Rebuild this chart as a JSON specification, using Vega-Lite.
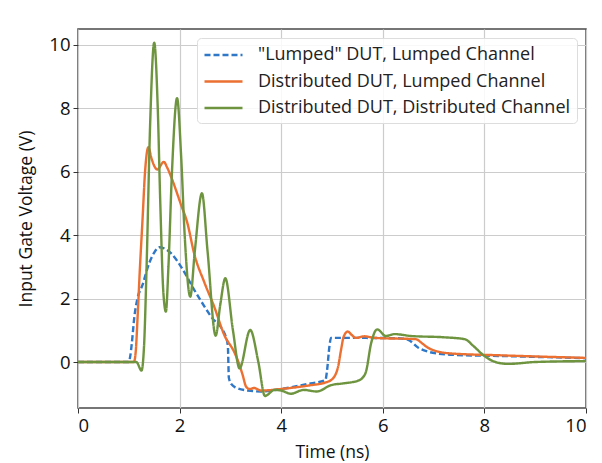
{
  "$schema": "https://vega.github.io/schema/vega-lite/v6.json",
  "width": 508,
  "height": 379,
  "padding": {"left": 17, "top": 29, "right": 5, "bottom": 5},
  "background": "white",
  "config": {
    "font": "Open Sans",
    "view": {"stroke": "#4a4a4a", "strokeWidth": 1.5},
    "axis": {
      "labelFont": "Open Sans",
      "titleFont": "Open Sans",
      "labelFontSize": 18.5,
      "titleFontSize": 17.5,
      "labelColor": "#111",
      "titleColor": "#111",
      "titleFontWeight": "normal",
      "gridColor": "#cccccc",
      "gridWidth": 1.2,
      "tickColor": "#333",
      "tickSize": 5,
      "domain": false,
      "labelPadding": 3
    },
    "legend": {
      "labelFont": "Open Sans",
      "labelFontSize": 18,
      "labelColor": "#222",
      "labelLimit": 500
    }
  },
  "data": {
    "values": [
      {"s": "\"Lumped\" DUT, Lumped Channel", "t": 0, "v": 0},
      {"s": "\"Lumped\" DUT, Lumped Channel", "t": 1.0, "v": 0},
      {"s": "\"Lumped\" DUT, Lumped Channel", "t": 1.03, "v": 0.2},
      {"s": "\"Lumped\" DUT, Lumped Channel", "t": 1.06, "v": 0.6},
      {"s": "\"Lumped\" DUT, Lumped Channel", "t": 1.11, "v": 1.43},
      {"s": "\"Lumped\" DUT, Lumped Channel", "t": 1.17, "v": 2.0},
      {"s": "\"Lumped\" DUT, Lumped Channel", "t": 1.27, "v": 2.43},
      {"s": "\"Lumped\" DUT, Lumped Channel", "t": 1.4, "v": 3.11},
      {"s": "\"Lumped\" DUT, Lumped Channel", "t": 1.5, "v": 3.45},
      {"s": "\"Lumped\" DUT, Lumped Channel", "t": 1.6, "v": 3.62},
      {"s": "\"Lumped\" DUT, Lumped Channel", "t": 1.7, "v": 3.58},
      {"s": "\"Lumped\" DUT, Lumped Channel", "t": 1.83, "v": 3.43},
      {"s": "\"Lumped\" DUT, Lumped Channel", "t": 2.03, "v": 3.0},
      {"s": "\"Lumped\" DUT, Lumped Channel", "t": 2.29, "v": 2.27},
      {"s": "\"Lumped\" DUT, Lumped Channel", "t": 2.62, "v": 1.43},
      {"s": "\"Lumped\" DUT, Lumped Channel", "t": 2.91, "v": 0.8},
      {"s": "\"Lumped\" DUT, Lumped Channel", "t": 2.95, "v": 0.5},
      {"s": "\"Lumped\" DUT, Lumped Channel", "t": 2.97, "v": -0.5},
      {"s": "\"Lumped\" DUT, Lumped Channel", "t": 3.02, "v": -0.7},
      {"s": "\"Lumped\" DUT, Lumped Channel", "t": 3.1, "v": -0.8},
      {"s": "\"Lumped\" DUT, Lumped Channel", "t": 3.34, "v": -0.9},
      {"s": "\"Lumped\" DUT, Lumped Channel", "t": 3.6, "v": -0.93},
      {"s": "\"Lumped\" DUT, Lumped Channel", "t": 4.0, "v": -0.85},
      {"s": "\"Lumped\" DUT, Lumped Channel", "t": 4.5, "v": -0.7},
      {"s": "\"Lumped\" DUT, Lumped Channel", "t": 4.87, "v": -0.57},
      {"s": "\"Lumped\" DUT, Lumped Channel", "t": 4.9, "v": -0.3},
      {"s": "\"Lumped\" DUT, Lumped Channel", "t": 4.95, "v": 0.5},
      {"s": "\"Lumped\" DUT, Lumped Channel", "t": 4.98, "v": 0.76},
      {"s": "\"Lumped\" DUT, Lumped Channel", "t": 5.5, "v": 0.76},
      {"s": "\"Lumped\" DUT, Lumped Channel", "t": 6.3, "v": 0.75},
      {"s": "\"Lumped\" DUT, Lumped Channel", "t": 6.5, "v": 0.7},
      {"s": "\"Lumped\" DUT, Lumped Channel", "t": 6.7, "v": 0.45},
      {"s": "\"Lumped\" DUT, Lumped Channel", "t": 6.88, "v": 0.33},
      {"s": "\"Lumped\" DUT, Lumped Channel", "t": 7.1, "v": 0.26},
      {"s": "\"Lumped\" DUT, Lumped Channel", "t": 7.34, "v": 0.23},
      {"s": "\"Lumped\" DUT, Lumped Channel", "t": 8.33, "v": 0.19},
      {"s": "\"Lumped\" DUT, Lumped Channel", "t": 10, "v": 0.12},

      {"s": "Distributed DUT, Lumped Channel", "t": 0, "v": 0},
      {"s": "Distributed DUT, Lumped Channel", "t": 1.1, "v": 0},
      {"s": "Distributed DUT, Lumped Channel", "t": 1.14, "v": 0.4},
      {"s": "Distributed DUT, Lumped Channel", "t": 1.17, "v": 1.32},
      {"s": "Distributed DUT, Lumped Channel", "t": 1.22, "v": 3.0},
      {"s": "Distributed DUT, Lumped Channel", "t": 1.27, "v": 4.48},
      {"s": "Distributed DUT, Lumped Channel", "t": 1.32, "v": 6.0},
      {"s": "Distributed DUT, Lumped Channel", "t": 1.385, "v": 6.77},
      {"s": "Distributed DUT, Lumped Channel", "t": 1.45, "v": 6.4},
      {"s": "Distributed DUT, Lumped Channel", "t": 1.56, "v": 6.07},
      {"s": "Distributed DUT, Lumped Channel", "t": 1.69, "v": 6.31},
      {"s": "Distributed DUT, Lumped Channel", "t": 1.75, "v": 6.15},
      {"s": "Distributed DUT, Lumped Channel", "t": 1.83, "v": 5.85},
      {"s": "Distributed DUT, Lumped Channel", "t": 2.03, "v": 4.95},
      {"s": "Distributed DUT, Lumped Channel", "t": 2.15, "v": 4.4},
      {"s": "Distributed DUT, Lumped Channel", "t": 2.29, "v": 3.4},
      {"s": "Distributed DUT, Lumped Channel", "t": 2.49, "v": 2.5},
      {"s": "Distributed DUT, Lumped Channel", "t": 2.68, "v": 1.75},
      {"s": "Distributed DUT, Lumped Channel", "t": 2.88, "v": 0.85},
      {"s": "Distributed DUT, Lumped Channel", "t": 3.08, "v": 0.3},
      {"s": "Distributed DUT, Lumped Channel", "t": 3.18, "v": -0.1},
      {"s": "Distributed DUT, Lumped Channel", "t": 3.24, "v": -0.4},
      {"s": "Distributed DUT, Lumped Channel", "t": 3.31, "v": -0.78},
      {"s": "Distributed DUT, Lumped Channel", "t": 3.38, "v": -0.85},
      {"s": "Distributed DUT, Lumped Channel", "t": 3.47, "v": -0.82},
      {"s": "Distributed DUT, Lumped Channel", "t": 3.6, "v": -0.9},
      {"s": "Distributed DUT, Lumped Channel", "t": 4.0, "v": -0.85},
      {"s": "Distributed DUT, Lumped Channel", "t": 4.5, "v": -0.75},
      {"s": "Distributed DUT, Lumped Channel", "t": 4.92, "v": -0.62},
      {"s": "Distributed DUT, Lumped Channel", "t": 5.05, "v": -0.45},
      {"s": "Distributed DUT, Lumped Channel", "t": 5.12, "v": -0.15},
      {"s": "Distributed DUT, Lumped Channel", "t": 5.18, "v": 0.4},
      {"s": "Distributed DUT, Lumped Channel", "t": 5.23, "v": 0.8},
      {"s": "Distributed DUT, Lumped Channel", "t": 5.31, "v": 0.96},
      {"s": "Distributed DUT, Lumped Channel", "t": 5.39, "v": 0.85},
      {"s": "Distributed DUT, Lumped Channel", "t": 5.47, "v": 0.76},
      {"s": "Distributed DUT, Lumped Channel", "t": 5.64, "v": 0.81},
      {"s": "Distributed DUT, Lumped Channel", "t": 5.84, "v": 0.76},
      {"s": "Distributed DUT, Lumped Channel", "t": 6.65, "v": 0.72},
      {"s": "Distributed DUT, Lumped Channel", "t": 6.78, "v": 0.58},
      {"s": "Distributed DUT, Lumped Channel", "t": 6.88, "v": 0.46},
      {"s": "Distributed DUT, Lumped Channel", "t": 7.02, "v": 0.36},
      {"s": "Distributed DUT, Lumped Channel", "t": 7.34, "v": 0.27},
      {"s": "Distributed DUT, Lumped Channel", "t": 8.33, "v": 0.21},
      {"s": "Distributed DUT, Lumped Channel", "t": 10, "v": 0.13},

      {"s": "Distributed DUT, Distributed Channel", "t": 0, "v": 0},
      {"s": "Distributed DUT, Distributed Channel", "t": 1.15, "v": 0},
      {"s": "Distributed DUT, Distributed Channel", "t": 1.25, "v": -0.27},
      {"s": "Distributed DUT, Distributed Channel", "t": 1.3, "v": 0.5},
      {"s": "Distributed DUT, Distributed Channel", "t": 1.35, "v": 3.0},
      {"s": "Distributed DUT, Distributed Channel", "t": 1.42, "v": 7.5},
      {"s": "Distributed DUT, Distributed Channel", "t": 1.5, "v": 10.07},
      {"s": "Distributed DUT, Distributed Channel", "t": 1.57, "v": 8.0},
      {"s": "Distributed DUT, Distributed Channel", "t": 1.62, "v": 5.0},
      {"s": "Distributed DUT, Distributed Channel", "t": 1.68, "v": 2.2},
      {"s": "Distributed DUT, Distributed Channel", "t": 1.73, "v": 1.59},
      {"s": "Distributed DUT, Distributed Channel", "t": 1.78, "v": 3.0},
      {"s": "Distributed DUT, Distributed Channel", "t": 1.85, "v": 6.0},
      {"s": "Distributed DUT, Distributed Channel", "t": 1.95, "v": 8.32},
      {"s": "Distributed DUT, Distributed Channel", "t": 2.03, "v": 6.5},
      {"s": "Distributed DUT, Distributed Channel", "t": 2.1, "v": 4.0},
      {"s": "Distributed DUT, Distributed Channel", "t": 2.21, "v": 2.06},
      {"s": "Distributed DUT, Distributed Channel", "t": 2.3, "v": 3.5},
      {"s": "Distributed DUT, Distributed Channel", "t": 2.44, "v": 5.32},
      {"s": "Distributed DUT, Distributed Channel", "t": 2.55, "v": 3.5},
      {"s": "Distributed DUT, Distributed Channel", "t": 2.71, "v": 0.83},
      {"s": "Distributed DUT, Distributed Channel", "t": 2.8, "v": 1.8},
      {"s": "Distributed DUT, Distributed Channel", "t": 2.9, "v": 2.64},
      {"s": "Distributed DUT, Distributed Channel", "t": 3.05, "v": 1.0},
      {"s": "Distributed DUT, Distributed Channel", "t": 3.18, "v": -0.2},
      {"s": "Distributed DUT, Distributed Channel", "t": 3.39, "v": 1.01},
      {"s": "Distributed DUT, Distributed Channel", "t": 3.55, "v": 0.0},
      {"s": "Distributed DUT, Distributed Channel", "t": 3.68, "v": -1.07},
      {"s": "Distributed DUT, Distributed Channel", "t": 3.87, "v": -0.88},
      {"s": "Distributed DUT, Distributed Channel", "t": 4.0, "v": -0.9},
      {"s": "Distributed DUT, Distributed Channel", "t": 4.19, "v": -1.0},
      {"s": "Distributed DUT, Distributed Channel", "t": 4.44, "v": -0.88},
      {"s": "Distributed DUT, Distributed Channel", "t": 4.7, "v": -0.93},
      {"s": "Distributed DUT, Distributed Channel", "t": 4.98, "v": -0.73},
      {"s": "Distributed DUT, Distributed Channel", "t": 5.24, "v": -0.67},
      {"s": "Distributed DUT, Distributed Channel", "t": 5.51, "v": -0.59},
      {"s": "Distributed DUT, Distributed Channel", "t": 5.6, "v": -0.5},
      {"s": "Distributed DUT, Distributed Channel", "t": 5.67, "v": -0.3},
      {"s": "Distributed DUT, Distributed Channel", "t": 5.77, "v": 0.59},
      {"s": "Distributed DUT, Distributed Channel", "t": 5.89, "v": 1.03},
      {"s": "Distributed DUT, Distributed Channel", "t": 6.06, "v": 0.82},
      {"s": "Distributed DUT, Distributed Channel", "t": 6.23, "v": 0.88},
      {"s": "Distributed DUT, Distributed Channel", "t": 6.56, "v": 0.82},
      {"s": "Distributed DUT, Distributed Channel", "t": 7.2, "v": 0.78},
      {"s": "Distributed DUT, Distributed Channel", "t": 7.61, "v": 0.72},
      {"s": "Distributed DUT, Distributed Channel", "t": 7.8, "v": 0.48},
      {"s": "Distributed DUT, Distributed Channel", "t": 8.0, "v": 0.19},
      {"s": "Distributed DUT, Distributed Channel", "t": 8.2, "v": 0.01},
      {"s": "Distributed DUT, Distributed Channel", "t": 8.46, "v": -0.06},
      {"s": "Distributed DUT, Distributed Channel", "t": 9.0, "v": 0.0},
      {"s": "Distributed DUT, Distributed Channel", "t": 10, "v": 0.03}
    ]
  },
  "mark": {"type": "line", "interpolate": "monotone", "strokeWidth": 2.4, "clip": true},
  "encoding": {
    "x": {
      "field": "t", "type": "quantitative",
      "scale": {"domain": [0, 10], "nice": false, "zero": false},
      "axis": {"values": [0, 2, 4, 6, 8, 10], "title": "Time (ns)", "titlePadding": 9}
    },
    "y": {
      "field": "v", "type": "quantitative",
      "scale": {"domain": [-1.45, 10.5], "nice": false, "zero": false},
      "axis": {"values": [0, 2, 4, 6, 8, 10], "title": "Input Gate Voltage (V)", "titlePadding": 11, "minExtent": 32, "maxExtent": 32}
    },
    "color": {
      "field": "s", "type": "nominal",
      "scale": {
        "domain": ["\"Lumped\" DUT, Lumped Channel", "Distributed DUT, Lumped Channel", "Distributed DUT, Distributed Channel"],
        "range": ["#2f78c8", "#ec7032", "#6e9440"]
      },
      "legend": {
        "title": null,
        "orient": "top-right",
        "offset": 9,
        "symbolType": "M-1,0H3",
        "symbolSize": 361,
        "symbolStrokeWidth": 2.4,
        "rowPadding": 6.5,
        "padding": 6,
        "fillColor": "rgba(255,255,255,0.85)",
        "strokeColor": "#dddddd",
        "cornerRadius": 4,
        "labelOffset": 33
      }
    },
    "strokeDash": {
      "field": "s", "type": "nominal",
      "scale": {
        "domain": ["\"Lumped\" DUT, Lumped Channel", "Distributed DUT, Lumped Channel", "Distributed DUT, Distributed Channel"],
        "range": [[6, 3], [1, 0], [1, 0]]
      },
      "legend": null
    }
  }
}
